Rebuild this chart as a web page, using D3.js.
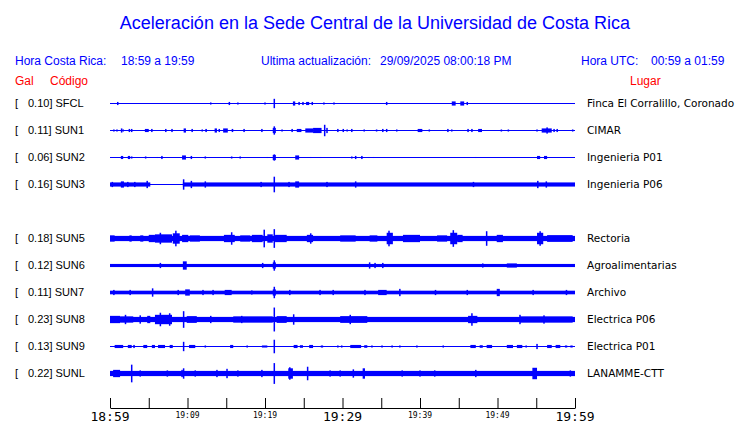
<!DOCTYPE html>
<html>
<head>
<meta charset="utf-8">
<script src="https://cdn.jsdelivr.net/npm/d3@7"></script>
<style>
  body { margin: 0; background: #fff; }
</style>
</head>
<body>
<script>
/* global d3 */

// Constants
const width = 740;
const height = 423;
const blue = '#0000ff';

// Data
const stationCodes = ['SFCL', 'SUN1', 'SUN2', 'SUN3', 'SUN5', 'SUN6', 'SUN7', 'SUN8', 'SUN9', 'SUNL'];
const stationPlaces = ['Finca El Corralillo, Coronado', 'CIMAR', 'Ingenieria P01', 'Ingenieria P06',
  'Rectoria', 'Agroalimentarias', 'Archivo', 'Electrica P06', 'Electrica P01', 'LANAMME-CTT'];
const peakGal = [0.10, 0.11, 0.06, 0.16, 0.18, 0.12, 0.11, 0.23, 0.13, 0.22];
const rowSlot = [0, 1, 2, 3, 5, 6, 7, 8, 9, 10];
// background noise level (Gal, half amplitude) and spans (minutes) without it
const noiseGal = [0, 0, 0, 0.04, 0.05, 0.03, 0.035, 0.05, 0, 0.05];
const quietSpans = [[], [], [], [[5.2, 9.4]], [], [], [], [], [], []];

// bursts and spikes: [start minute, end minute, half amplitude in Gal]
const sfclEvents = [[1.0, 1.0, 0.03], [13.0, 13.0, 0.02], [15.4, 15.4, 0.03], [16.5, 16.5, 0.02], [20.0, 20.0, 0.02],
  [21.2, 21.2, 0.09], [23.6, 23.9, 0.04], [24.4, 24.4, 0.03], [24.9, 24.9, 0.03], [25.3, 25.7, 0.03], [26.1, 26.1, 0.03],
  [27.6, 27.6, 0.02], [28.9, 28.9, 0.02], [35.7, 35.7, 0.03], [44.1, 44.6, 0.04], [45.2, 45.7, 0.04], [46.1, 46.1, 0.03]];
const sun1Events = [[0.5, 0.5, 0.02], [0.9, 0.9, 0.02], [1.4, 1.6, 0.04], [1.7, 1.7, 0.02], [2.5, 2.5, 0.03], [2.8, 2.8, 0.03],
  [4.5, 5.0, 0.03], [5.4, 5.4, 0.03], [7.2, 7.2, 0.03], [8.0, 8.0, 0.03], [9.5, 9.8, 0.04], [10.6, 10.6, 0.03],
  [11.9, 11.9, 0.02], [12.3, 12.5, 0.03], [13.5, 13.8, 0.04], [14.1, 14.1, 0.03], [14.6, 15.2, 0.04], [15.7, 15.9, 0.03],
  [17.3, 17.3, 0.03], [19.6, 19.6, 0.03], [21.0, 21.4, 0.05], [21.2, 21.2, 0.08], [22.2, 22.2, 0.02], [23.5, 23.5, 0.03],
  [24.1, 24.7, 0.03], [25.2, 26.2, 0.04], [26.2, 27.3, 0.05], [27.7, 27.7, 0.11], [28.0, 28.0, 0.05], [29.4, 29.4, 0.03],
  [30.1, 30.1, 0.03], [30.6, 30.6, 0.02], [31.2, 31.2, 0.03], [32.8, 32.8, 0.02], [34.4, 34.4, 0.02], [35.2, 35.2, 0.03],
  [35.7, 35.7, 0.03], [37.0, 37.0, 0.02], [39.7, 40.3, 0.03], [41.2, 41.2, 0.02], [43.6, 43.6, 0.03], [44.1, 44.1, 0.02],
  [46.2, 46.2, 0.03], [46.7, 46.7, 0.03], [47.5, 48.0, 0.03], [50.5, 50.5, 0.02], [51.4, 51.4, 0.02], [55.1, 55.1, 0.02],
  [55.7, 57.0, 0.04], [56.4, 56.4, 0.06], [57.3, 57.3, 0.03], [57.7, 57.7, 0.03], [59.7, 59.7, 0.02]];
const sun2Events = [[1.4, 1.7, 0.03], [2.3, 2.6, 0.03], [2.8, 2.8, 0.02], [4.6, 4.6, 0.02], [6.1, 6.1, 0.01], [6.7, 6.7, 0.03],
  [9.3, 9.8, 0.04], [10.5, 10.5, 0.03], [12.3, 12.3, 0.02], [15.7, 15.7, 0.02], [16.8, 16.8, 0.02], [20.3, 20.3, 0.01],
  [21.0, 21.4, 0.05], [21.2, 21.2, 0.06], [23.9, 24.4, 0.04], [25.9, 25.9, 0.01], [27.2, 27.2, 0.01], [31.2, 31.2, 0.02],
  [31.7, 31.7, 0.03], [32.4, 32.6, 0.03], [33.4, 33.4, 0.01], [34.0, 34.0, 0.01], [47.2, 47.2, 0.01], [55.1, 55.5, 0.03],
  [56.0, 56.4, 0.03]];
const sun3Events = [[0.3, 0.3, 0.05], [1.4, 1.8, 0.06], [2.3, 2.3, 0.05], [3.2, 3.2, 0.05], [4.8, 4.8, 0.07], [9.5, 9.5, 0.10],
  [10.5, 10.5, 0.07], [12.3, 12.3, 0.06], [19.5, 19.5, 0.05], [21.2, 21.2, 0.15], [23.1, 23.1, 0.05], [23.9, 24.4, 0.06],
  [28.0, 28.0, 0.05], [31.7, 31.7, 0.06], [46.9, 46.9, 0.05], [55.2, 55.2, 0.07], [56.3, 56.3, 0.06]];
const sun5Events = [[0, 0.6, 0.06], [2.5, 2.8, 0.06], [3.9, 4.3, 0.06], [5.0, 5.8, 0.07], [5.8, 8.0, 0.08], [6.5, 6.5, 0.11],
  [8.1, 9.0, 0.10], [8.5, 8.5, 0.15], [9.3, 10.1, 0.07], [10.3, 11.6, 0.06], [14.7, 16.1, 0.07], [15.7, 15.7, 0.12],
  [16.8, 18.1, 0.06], [18.3, 19.7, 0.07], [19.9, 19.9, 0.17], [20.3, 21.0, 0.08], [21.2, 21.2, 0.18], [21.3, 22.8, 0.07],
  [25.4, 26.2, 0.07], [25.9, 25.9, 0.10], [29.7, 31.7, 0.06], [33.5, 34.5, 0.06], [35.7, 36.5, 0.11], [36.0, 36.0, 0.15],
  [37.8, 40.0, 0.07], [42.2, 43.5, 0.06], [43.9, 44.8, 0.11], [44.3, 44.3, 0.16], [44.8, 45.5, 0.07], [48.6, 48.6, 0.14],
  [49.9, 50.7, 0.07], [55.1, 55.9, 0.11], [55.5, 55.5, 0.14], [56.4, 59.7, 0.065]];
const sun6Events = [[6.5, 6.5, 0.05], [9.4, 9.9, 0.08], [19.7, 19.7, 0.05], [21.0, 21.4, 0.06], [21.2, 21.2, 0.10],
  [33.5, 33.5, 0.06], [34.2, 34.2, 0.05], [35.2, 35.2, 0.05], [48.1, 48.1, 0.04], [51.2, 52.5, 0.04]];
const sun7Events = [[0.5, 0.5, 0.05], [2.6, 2.6, 0.05], [5.5, 5.5, 0.08], [8.8, 8.8, 0.05], [9.7, 10.3, 0.06], [12.0, 12.0, 0.05],
  [13.3, 13.3, 0.05], [14.8, 15.7, 0.05], [18.3, 18.3, 0.04], [21.0, 21.4, 0.06], [21.2, 21.2, 0.11], [23.2, 23.2, 0.05],
  [27.1, 27.1, 0.05], [28.8, 28.8, 0.05], [32.9, 32.9, 0.05], [34.6, 35.7, 0.05], [37.4, 37.4, 0.07], [42.0, 42.0, 0.05],
  [46.1, 46.1, 0.05], [49.9, 50.3, 0.07], [54.6, 54.6, 0.05], [58.9, 58.9, 0.05]];
const sun8Events = [[0, 1.3, 0.07], [1.3, 3.0, 0.06], [2.0, 2.0, 0.09], [3.9, 3.9, 0.08], [4.8, 5.2, 0.07], [5.8, 8.0, 0.09],
  [6.5, 6.5, 0.13], [7.7, 7.7, 0.12], [9.5, 9.5, 0.16], [9.9, 11.2, 0.065], [13.0, 13.0, 0.07], [17.0, 17.0, 0.07],
  [15.9, 21.0, 0.06], [21.2, 21.2, 0.23], [21.5, 22.8, 0.065], [23.7, 23.7, 0.10], [29.7, 33.2, 0.065], [31.0, 31.0, 0.09],
  [46.2, 47.4, 0.07], [46.7, 46.7, 0.12], [52.9, 59.7, 0.06], [52.9, 52.9, 0.09], [56.0, 56.0, 0.08]];
const sun9Events = [[0.6, 1.7, 0.03], [2.3, 2.8, 0.03], [3.0, 3.2, 0.03], [4.3, 4.8, 0.03], [5.4, 5.8, 0.03], [6.2, 7.1, 0.03],
  [7.7, 8.1, 0.03], [9.5, 9.5, 0.09], [10.2, 11.0, 0.03], [12.3, 12.3, 0.02], [15.5, 15.9, 0.03], [17.7, 17.7, 0.02],
  [19.6, 20.3, 0.02], [21.2, 21.2, 0.13], [23.7, 24.2, 0.03], [24.5, 24.9, 0.025], [25.7, 26.2, 0.03], [27.2, 27.5, 0.02],
  [29.4, 29.4, 0.02], [29.9, 29.9, 0.02], [31.0, 32.4, 0.03], [32.8, 33.2, 0.025], [33.8, 33.8, 0.02], [35.1, 35.1, 0.02],
  [36.4, 36.4, 0.02], [37.4, 37.4, 0.02], [39.6, 39.6, 0.02], [43.0, 43.0, 0.02], [46.5, 47.2, 0.03], [47.7, 48.1, 0.025],
  [48.6, 49.3, 0.03], [51.2, 52.0, 0.03], [52.5, 53.2, 0.03], [53.6, 53.8, 0.02], [55.1, 55.1, 0.05], [56.4, 57.0, 0.03],
  [57.5, 58.1, 0.03], [58.7, 59.0, 0.02], [59.4, 59.7, 0.02]];
const sunlEvents = [[0.4, 1.3, 0.07], [2.8, 2.8, 0.17], [3.9, 3.9, 0.06], [7.4, 7.4, 0.06], [9.3, 9.3, 0.07], [9.5, 9.5, 0.10],
  [11.0, 11.0, 0.06], [13.8, 13.8, 0.07], [15.1, 15.1, 0.09], [16.5, 16.5, 0.06], [19.6, 19.6, 0.07], [21.2, 21.2, 0.20],
  [23.0, 23.6, 0.10], [23.2, 23.2, 0.12], [25.5, 25.5, 0.13], [28.4, 28.4, 0.06], [29.7, 29.7, 0.06], [31.4, 31.4, 0.08],
  [32.6, 32.9, 0.10], [37.7, 37.7, 0.06], [40.0, 40.0, 0.06], [41.9, 41.9, 0.06], [47.2, 47.2, 0.07], [54.5, 55.1, 0.11],
  [59.4, 59.4, 0.06]];
const stationEvents = [sfclEvents, sun1Events, sun2Events, sun3Events, sun5Events,
  sun6Events, sun7Events, sun8Events, sun9Events, sunlEvents];

// Time axis (minutes after 18:59)
const tickMinutes = d3.range(0, 61, 5);
const labelMinutes = [0, 10, 20, 30, 40, 50, 60];
const tickLabels = ['18:59', '19:09', '19:19', '19:29', '19:39', '19:49', '19:59'];
const majorLabels = ['18:59', '19:29', '19:59'];

// SVG setup
const svg = d3.select('body')
.append('svg')
.attr('width', width)
.attr('height', height)
.style('font-family', '"Liberation Sans", Arial, sans-serif');

// Scales
const xScale = d3.scaleLinear().domain([0, 60]).range([110, 575]);
const rowScale = d3.scaleLinear().domain([0, 10]).range([103, 373]);
const ampScale = d3.scaleLinear().domain([-0.25, 0.25]).range([13, -13]);

// Header texts
svg.append('text')
.attr('x', 375).attr('y', 29)
.attr('text-anchor', 'middle')
.attr('font-size', '18px')
.attr('fill', blue)
.text('Aceleración en la Sede Central de la Universidad de Costa Rica');

const headerBits = [
  [15, 'Hora Costa Rica:'], [121, '18:59 a 19:59'],
  [261, 'Ultima actualización:'], [380, '29/09/2025 08:00:18 PM'],
  [581, 'Hora UTC:'], [651, '00:59 a 01:59']
];
svg.selectAll('text.head')
.data(headerBits)
.enter()
.append('text')
.attr('class', 'head')
.attr('x', d => d[0]).attr('y', 65)
.attr('font-size', '12px')
.attr('fill', blue)
.text(d => d[1]);

const redBits = [[15, 'Gal'], [50, 'Código'], [630, 'Lugar']];
svg.selectAll('text.red')
.data(redBits)
.enter()
.append('text')
.attr('class', 'red')
.attr('x', d => d[0]).attr('y', 85)
.attr('font-size', '12px')
.attr('fill', '#ff0000')
.text(d => d[1]);

// One group per station
const rows = svg.selectAll('g.row')
.data(stationCodes)
.enter()
.append('g')
.attr('class', 'row')
.attr('transform', (d, i) => `translate(0,${ rowScale(rowSlot[i]) })`);

rows.append('text')
.attr('x', 15).attr('y', 4)
.attr('font-size', '11px')
.text('[');

rows.append('text')
.attr('x', 28).attr('y', 4)
.attr('font-size', '11px')
.text((d, i) => `${ peakGal[i].toFixed(2) }] ${ d }`);

rows.append('text')
.attr('x', 587).attr('y', 4)
.attr('font-family', '"DejaVu Sans", sans-serif')
.attr('font-size', '10.5px')
.text((d, i) => stationPlaces[i]);

// baseline trace
rows.append('line')
.attr('x1', xScale(0)).attr('x2', xScale(60))
.attr('y1', 0.5).attr('y2', 0.5)
.attr('stroke', blue)
.attr('stroke-width', 1);

// noise band, skipping quiet spans
function noiseSpans(i) {
    const spans = [];
    let start = 0;
    quietSpans[i].forEach(q => {
        spans.push([start, q[0]]);
        start = q[1];
    });
    spans.push([start, 60]);
    return noiseGal[i] > 0 ? spans.map(s => [s[0], s[1], noiseGal[i]]) : [];
}

rows.each(function(d, i) {
    const g = d3.select(this);
    const marks = noiseSpans(i).concat(stationEvents[i]);
    g.selectAll('rect')
    .data(marks)
    .enter()
    .append('rect')
    .attr('x', m => xScale(m[0]) - (m[1] === m[0] ? 0.75 : 0))
    .attr('width', m => Math.max(1.5, xScale(m[1]) - xScale(m[0])))
    .attr('y', m => ampScale(m[2]) + 0.5)
    .attr('height', m => ampScale(-m[2]) - ampScale(m[2]))
    .attr('fill', blue);
});

// Time axis
const axis = d3.axisBottom(xScale)
.tickValues(tickMinutes)
.tickSizeInner(-10)
.tickSizeOuter(0)
.tickFormat('');

const axisG = svg.append('g')
.attr('transform', 'translate(0,408)')
.call(axis);
axisG.select('.domain').attr('stroke', '#000');
axisG.selectAll('.tick line').attr('stroke', '#000');

svg.selectAll('text.tlabel')
.data(labelMinutes)
.enter()
.append('text')
.attr('class', 'tlabel')
.attr('x', d => xScale(d))
.attr('y', (d, i) => majorLabels.includes(tickLabels[i]) ? 421 : 418)
.attr('text-anchor', 'middle')
.attr('font-family', '"DejaVu Sans Mono", monospace')
.attr('font-size', (d, i) => majorLabels.includes(tickLabels[i]) ? '13px' : '8px')
.text((d, i) => tickLabels[i]);
</script>
</body>
</html>
